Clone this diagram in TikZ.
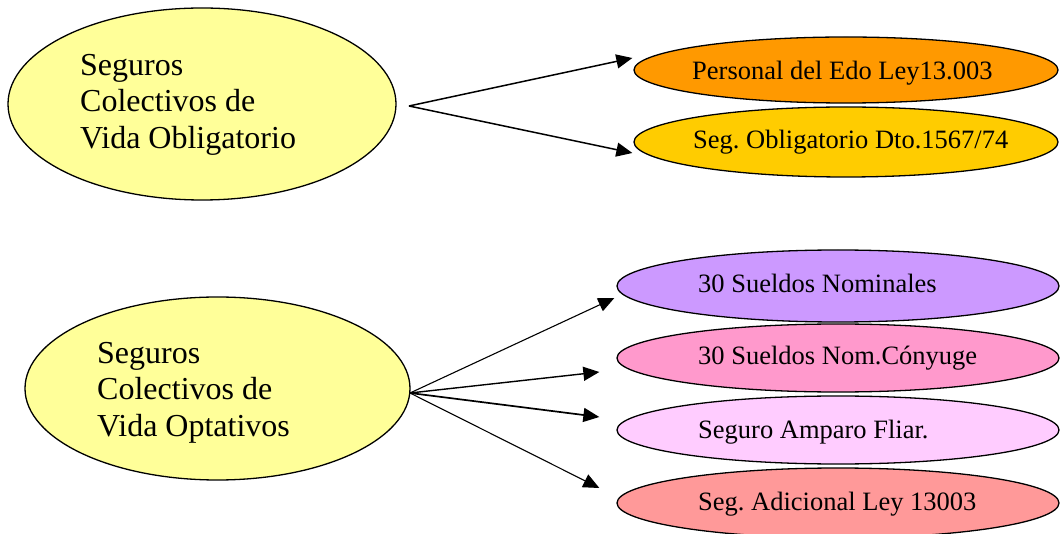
\documentclass[tikz,border=0pt]{standalone}
\usepackage{fontspec}
\setmainfont{Liberation Serif}
\frenchspacing
\usetikzlibrary{shapes.geometric,arrows.meta,calc}
\definecolor{lightyel}{RGB}{255,255,153}
\definecolor{orng}{RGB}{255,153,0}
\definecolor{gold}{RGB}{255,204,0}
\definecolor{lilac}{RGB}{204,153,255}
\definecolor{pnk}{RGB}{255,153,204}
\definecolor{lpnk}{RGB}{255,204,255}
\definecolor{salmon}{RGB}{255,153,153}
\tikzset{
  bigell/.style={ellipse, draw=black, line width=1.3pt, inner sep=0pt},
  smallell/.style={ellipse, draw=black, line width=1.3pt, inner sep=0pt},
  bigtxt/.style={anchor=west, align=left, inner sep=0pt, font=\fontsize{32pt}{36.5pt}\selectfont},
  smalltxt/.style={anchor=base west, inner sep=0pt, font=\fontsize{26.5pt}{31pt}\selectfont},
  arr/.style={-{Triangle[length=16pt,width=14pt]}, line width=1.5pt},
}
\begin{document}
\begin{tikzpicture}[x=1pt,y=1pt]
\useasboundingbox (0,0) rectangle (1060,533);
\clip (0,0) rectangle (1060,533);
% left ellipses
\node[bigell, fill=lightyel, minimum width=388pt, minimum height=192pt] (obl) at (202,429) {};
\node[bigtxt] (oblT) at (80,428.5) {Seguros\\Colectivos de\\Vida Obligatorio};
\node[bigell, fill=lightyel, minimum width=385pt, minimum height=183pt] (opt) at (217.5,144.5) {};
\node[bigtxt] (optT) at (97,140.5) {Seguros\\Colectivos de\\Vida Optativos};
% right ellipses top
\node[smallell, fill=orng, minimum width=424pt, minimum height=66pt] (per) at (846,463) {};
\node[smalltxt] (perT) at (692,453) {Personal del Edo Ley13.003};
\node[smallell, fill=gold, minimum width=424pt, minimum height=70pt] (seg) at (846,391) {};
\node[smalltxt] (segT) at (693,384) {Seg. Obligatorio Dto.1567/74};
% right ellipses bottom
\node[smallell, fill=lilac, minimum width=442pt, minimum height=72pt] (sn) at (838,247) {};
\node[smalltxt] (snT) at (698,240) {30 Sueldos Nominales};
\node[smallell, fill=pnk, minimum width=442pt, minimum height=68pt] (snc) at (838,175) {};
\node[smalltxt] (sncT) at (698,168) {30 Sueldos Nom.Cónyuge};
\node[smallell, fill=lpnk, minimum width=442pt, minimum height=68pt] (amp) at (838,103) {};
\node[smalltxt] (ampT) at (698,95) {Seguro Amparo Fliar.};
\node[smallell, fill=salmon, minimum width=442pt, minimum height=70pt] (adi) at (838,30) {};
\node[smalltxt] (adiT) at (698,23) {Seg. Adicional Ley 13003};
% arrow origins
\coordinate (o1) at (409,427);
\coordinate (o2) at (410,140);
% arrows
\draw[arr] (o1) -- ($(per.west)+(-1,12)$);
\draw[arr] (o1) -- ($(seg.west)+(-1,-11)$);
\draw[arr, line width=1.1pt] (o2) -- ($(sn.west)+(-2,-12)$);
\draw[arr, line width=1.4pt] (o2) -- ($(snc.west)+(-17,-14)$);
\draw[arr, line width=1.7pt] (o2) -- ($(amp.west)+(-17,13)$);
\draw[arr, line width=1.1pt] (o2) -- ($(adi.west)+(-17,15)$);
\end{tikzpicture}
\end{document}
